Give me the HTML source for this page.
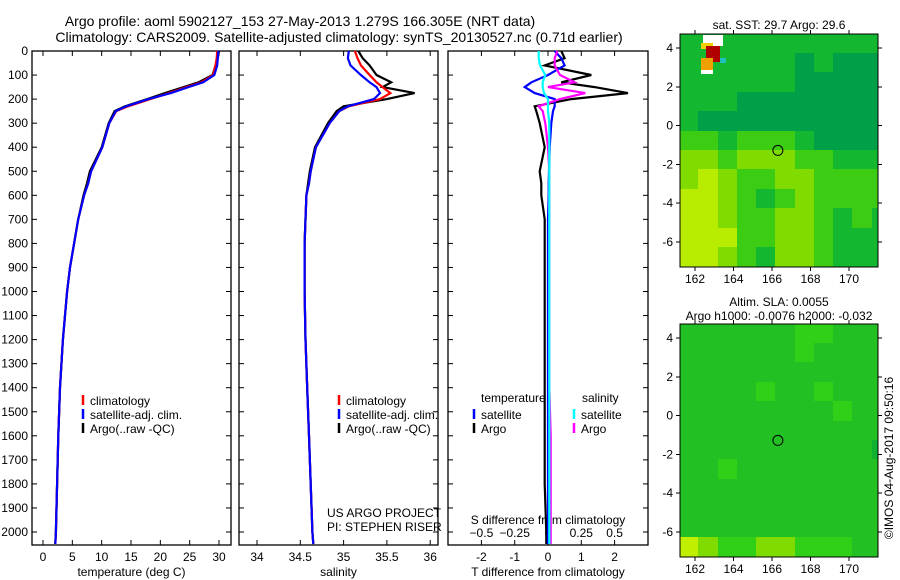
<!DOCTYPE html>
<html><head><meta charset="utf-8"><style>
body{margin:0;background:#fff;}
svg{display:block;font-family:"Liberation Sans",sans-serif;}
text{fill:#000;}
</style></head><body>
<svg id="fig" width="900" height="580" xmlns="http://www.w3.org/2000/svg">
<rect width="900" height="580" fill="#fff"/>
<text x="300" y="26" font-size="14" text-anchor="middle">Argo profile: aoml 5902127_153 27-May-2013 1.279S 166.305E (NRT data)</text>
<text x="339" y="42" font-size="14" text-anchor="middle">Climatology: CARS2009. Satellite-adjusted climatology: synTS_20130527.nc (0.71d earlier)</text>
<g id="g"></g>
</svg>
<script>
// ---- data ----
const depthTicks=[0,100,200,300,400,500,600,700,800,900,1000,1100,1200,1300,1400,1500,1600,1700,1800,1900,2000];
const tempTicks=[0,5,10,15,20,25,30];
const salTicks=[34,34.5,35,35.5,36];
const tdiffTicks=[-2,-1,0,1,2];
const sdiffTicks=[-0.5,-0.25,0,0.25,0.5];
const depths=[0,30,60,100,130,150,175,200,230,250,300,400,500,550,600,700,800,900,1000,1200,1400,1600,1800,2000,2050];
const tempClim=[29.7,29.6,29.4,29.0,27.0,24.5,21.5,18.3,14.5,12.5,11.3,10.1,8.2,7.7,7.0,6.0,5.3,4.6,4.1,3.4,2.9,2.6,2.4,2.2,2.1];
const tempSat=[29.9,29.8,29.7,29.2,27.3,24.8,21.8,18.0,14.2,12.4,11.3,10.1,8.2,7.7,7.0,6.0,5.3,4.6,4.1,3.4,2.9,2.6,2.4,2.2,2.1];
const tempArgo=[30.0,29.8,29.4,28.9,26.5,24.0,20.8,17.8,14.0,12.2,11.2,10.0,8.0,7.5,6.9,6.0,5.3,4.6,4.1,3.4,2.9,2.6,2.4,2.2,2.1];
const salClim=[35.13,35.16,35.20,35.30,35.38,35.45,35.54,35.42,35.06,34.95,34.84,34.68,34.62,34.60,34.57,34.56,34.55,34.55,34.55,34.56,34.58,34.60,34.62,34.64,34.65];
const salSat=[35.06,35.05,35.08,35.20,35.30,35.38,35.42,35.35,35.05,34.95,34.84,34.68,34.62,34.60,34.57,34.56,34.55,34.55,34.55,34.56,34.58,34.60,34.62,34.64,34.65];
const salArgo=[35.17,35.22,35.30,35.38,35.55,35.45,35.82,35.50,35.00,34.92,34.82,34.67,34.61,34.59,34.57,34.56,34.55,34.55,34.55,34.56,34.58,34.60,34.62,34.64,34.65];
const tdiffSat=[0.2,0.4,0.5,0.0,-0.5,-0.7,-0.4,0.2,0.2,0.15,0.1,0.05,0.03,0.02,0.02,0.0,0.0,0.0,0.0,0.0,0.0,0.0,0.0,0.0,0.0];
const tdiffArgo=[0.4,0.5,-0.1,1.3,0.4,1.4,2.4,0.7,-0.4,-0.35,-0.25,-0.1,-0.25,-0.2,-0.2,-0.1,-0.1,-0.1,-0.1,-0.1,-0.1,-0.1,-0.1,-0.05,-0.05];
const sdiffSat=[-0.07,-0.07,-0.06,-0.02,-0.04,-0.04,-0.03,0.0,0.0,0.0,0.01,0.01,0.01,0.01,0.01,0.01,0.01,0.01,0.01,0.01,0.01,0.01,0.01,0.01,0.01];
const sdiffArgo=[0.07,0.05,0.05,0.09,0.2,0.0,0.28,0.09,-0.07,-0.04,-0.02,0.0,0.01,0.01,0.01,0.01,0.01,0.01,0.01,0.01,0.01,0.02,0.02,0.02,0.02];
const lonTicks=[162,164,166,168,170];
const latTicks=[4,2,0,-2,-4,-6];
const sstGrid=[
[1,1,1,1,1,1,1,1,1,1,1],
[1,1,1,1,1,1,0,1,0,0,0],
[1,1,1,1,1,1,0,0,0,0,0],
[1,1,1,0,0,0,0,0,0,0,0],
[1,0,0,0,0,0,0,0,0,0,0],
[2,2,1,2,2,2,1,0,0,0,0],
[3,3,2,3,3,3,2,2,1,1,1],
[3,4,3,2,2,3,3,2,2,2,2],
[4,4,3,2,1,2,3,2,2,2,2],
[4,4,3,2,2,3,3,2,1,2,1],
[4,4,4,2,2,3,3,2,1,1,1],
[4,4,3,2,1,3,3,2,1,1,1]];
const slaGrid=[
[1,1,1,1,1,1,2,2,1,1,1],
[1,1,1,1,1,1,2,1,1,1,1],
[1,1,1,1,1,1,1,1,1,1,1],
[1,1,1,1,2,1,1,2,1,1,1],
[1,1,1,1,1,1,1,1,2,1,1],
[1,1,1,1,1,1,1,1,1,1,1],
[1,1,1,1,1,1,1,1,1,1,0],
[1,1,2,1,1,1,1,1,1,1,1],
[1,1,1,1,1,1,1,1,1,1,1],
[1,1,1,1,1,1,1,1,1,1,1],
[1,1,1,1,1,1,1,1,1,1,1],
[4,3,2,2,3,3,2,2,2,1,1]];
const palette=["#00a048","#14b830","#3ccc14","#80dc00","#b8ec00"];
const slaPalette=["#10b030","#22c022","#30d018","#80dc00","#c0f000"];

const NS="http://www.w3.org/2000/svg";
const G=document.getElementById('g');
function el(t,a,p){const e=document.createElementNS(NS,t);for(const k in a)e.setAttribute(k,a[k]);(p||G).appendChild(e);return e;}
const Y0=51,YB=545;
const yD=d=>Y0+d*0.2405;

function panel(name,x0,x1,xs,ticks,fmt,xlabel){
  const f=el('rect',{x:x0,y:Y0,width:x1-x0,height:YB-Y0,fill:'none',stroke:'#000','stroke-width':1.3});
  
  
  depthTicks.forEach(d=>{
    el('line',{x1:x0,x2:x0+5,y1:yD(d),y2:yD(d),stroke:'#000'});
    el('line',{x1:x1-5,x2:x1,y1:yD(d),y2:yD(d),stroke:'#000'});
  });
  if(ticks){ticks.forEach(v=>{const x=xs(v);
    el('line',{x1:x,x2:x,y1:YB,y2:YB-5,stroke:'#000'});
    el('line',{x1:x,x2:x,y1:Y0,y2:Y0+5,stroke:'#000'});
    const t=el('text',{x:x,y:YB+16,'font-size':12,'text-anchor':'middle'});t.textContent=fmt(v);
    
    
  });}
  if(xlabel){const t=el('text',{x:(x0+x1)/2,y:576,'font-size':12,'text-anchor':'middle'});t.textContent=xlabel;
    
    }
}
function line(xs,vals,color,name){
  const p=depths.map((d,i)=>(i?'L':'M')+xs(vals[i]).toFixed(1)+','+yD(d).toFixed(1)).join('');
  const e=el('path',{d:p,fill:'none',stroke:color,'stroke-width':2.2});
  
  
}
function legend(x,y,items){
  items.forEach((it,i)=>{
    el('line',{x1:x,x2:x,y1:y+i*14-6,y2:y+i*14+4,stroke:it[1],'stroke-width':2.5});
    const t=el('text',{x:x+7,y:y+i*14+4,'font-size':12});t.textContent=it[0];
    
    
  });
}
depthTicks.forEach(d=>{const t=el('text',{x:28,y:yD(d)+4,'font-size':12,'text-anchor':'end'});t.textContent=d;
  
  });

const xT=v=>43+v*5.867;
panel('temperature-panel',32,231,xT,tempTicks,v=>v,'temperature (deg C)');
line(xT,tempArgo,'#000','temp-argo-line');
line(xT,tempClim,'#f00','temp-clim-line');
line(xT,tempSat,'#00f','temp-sat-line');
legend(83,401,[['climatology','#f00'],['satellite-adj. clim.','#00f'],['Argo(..raw -QC)','#000']]);

const xS=v=>257+(v-34)*86.6;
panel('salinity-panel',239,438,xS,salTicks,v=>v,'salinity');
line(xS,salArgo,'#000','sal-argo-line');
line(xS,salClim,'#f00','sal-clim-line');
line(xS,salSat,'#00f','sal-sat-line');
legend(339,401,[['climatology','#f00'],['satellite-adj. clim.','#00f'],['Argo(..raw -QC)','#000']]);
[['US ARGO PROJECT',517],['PI: STEPHEN RISER',531]].forEach(a=>{const t=el('text',{x:327,y:a[1],'font-size':12});t.textContent=a[0];
  
  });

const xTd=v=>548+v*33.3, xSd=v=>548+v*133.2;
panel('difference-panel',448,648,xTd,tdiffTicks,v=>v,'T difference from climatology');
sdiffTicks.forEach(v=>{const t=el('text',{x:xSd(v),y:537,'font-size':12,'text-anchor':'middle'});t.textContent=v===0?'0':(v<0?'\u2212'+Math.abs(v):v);
  
  });
{const t=el('text',{x:548,y:524,'font-size':12,'text-anchor':'middle'});t.textContent='S difference from climatology';
 }
line(xTd,tdiffArgo,'#000','tdiff-argo-line');
line(xTd,tdiffSat,'#00f','tdiff-sat-line');
line(xSd,sdiffArgo,'#f0f','sdiff-argo-line');
line(xSd,sdiffSat,'#0ff','sdiff-sat-line');
{const t=el('text',{x:481,y:402,'font-size':12});t.textContent='temperature';}
{const t=el('text',{x:582,y:402,'font-size':12});t.textContent='salinity';}
legend(474,415,[['satellite','#00f'],['Argo','#000']]);
legend(574,415,[['satellite','#0ff'],['Argo','#f0f']]);

const lonX=v=>695+(v-162)*19.25;
function map(name,top,lat4y,grid,pal,t1,t2){
  const latY=v=>lat4y+(4-v)*19.4;
  const g=el('g',{'shape-rendering':'crispEdges'});
  
  
  const L=680,R=878,B=top+233;
  grid.forEach((row,r)=>row.forEach((v,c)=>{
    const x=Math.floor(lonX(161.2+c)), y=Math.floor(latY(4.72-r));
    el('rect',{x:Math.max(x,L),y:Math.max(y,top),width:21,height:21,fill:pal[v]},g);
  }));
  el('rect',{x:R,y:top-2,width:22,height:240,fill:'#fff'},g);
  el('rect',{x:L,y:B,width:200,height:20,fill:'#fff'},g);
  el('rect',{x:L,y:top,width:R-L,height:B-top,fill:'none',stroke:'#000','stroke-width':1.2},g);
  lonTicks.forEach(v=>{const x=lonX(v);
    el('line',{x1:x,x2:x,y1:top,y2:top-4,stroke:'#000'},g);
    el('line',{x1:x,x2:x,y1:B,y2:B+4,stroke:'#000'},g);
    const t=el('text',{x:x,y:B+16,'font-size':12,'text-anchor':'middle'},g);t.textContent=v;
    });
  latTicks.forEach(v=>{const y=latY(v);
    el('line',{x1:L,x2:L-4,y1:y,y2:y,stroke:'#000'},g);
    el('line',{x1:R,x2:R+4,y1:y,y2:y,stroke:'#000'},g);
    const t=el('text',{x:L-7,y:y+4,'font-size':12,'text-anchor':'end'},g);t.textContent=v<0?'-'+Math.abs(v):v;
    });
  const c=el('circle',{cx:lonX(166.305),cy:latY(-1.279),r:5,fill:'none',stroke:'#000','stroke-width':1,'shape-rendering':'auto'},g);
  
  if(t1){const t=el('text',{x:779,y:top-(t2?18:5),'font-size':12,'text-anchor':'middle'},g);t.textContent=t1;
    }
  if(t2){const t=el('text',{x:779,y:top-4,'font-size':12,'text-anchor':'middle'},g);t.textContent=t2;
    }
  return g;
}
const g1=map('sst-map',34,48,sstGrid,palette,'sat. SST: 29.7 Argo: 29.6');
[[703,35,20,11,'#fff'],[701,43,12,6,'#f0d000'],[706,46,14,16,'#b00000'],[701,58,12,12,'#f0a000'],[701,70,12,4,'#fff'],[720,58,6,5,'#20c0c0']].forEach(a=>el('rect',{x:a[0],y:a[1],width:a[2],height:a[3],fill:a[4]},g1));
const g2=map('sla-map',324,338,slaGrid,slaPalette,'Altim. SLA: 0.0055','Argo h1000: -0.0076 h2000: -0.032');
{const t=el('text',{x:0,y:0,'font-size':12,'text-anchor':'middle',transform:'translate(893,458) rotate(-90)'});t.textContent='©IMOS 04-Aug-2017 09:50:16';
 }
</script>
</body></html>
